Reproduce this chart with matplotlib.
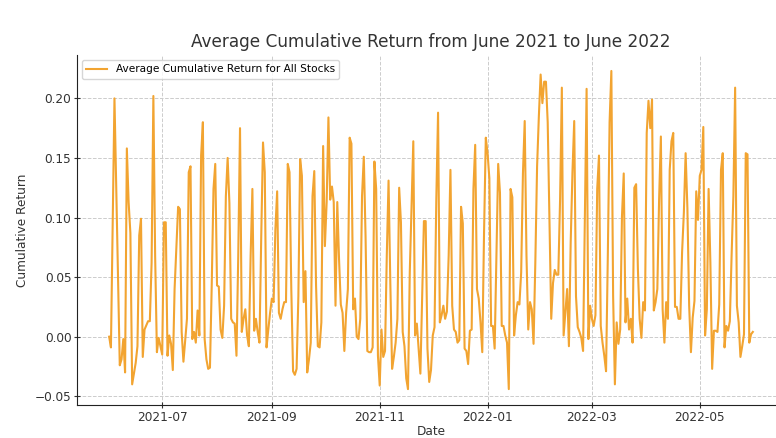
import matplotlib
matplotlib.use("Agg")
import matplotlib.pyplot as plt
import matplotlib.dates as mdates
import pandas as pd

# days since 2021-06-01 and the average cumulative return
day = [0, 1, 3, 6, 7, 8, 9, 10, 11, 12, 13, 15, 16, 17, 18, 19, 20, 22, 23, 24,
       25, 26, 27, 28, 30, 31, 32, 33, 34, 35, 36, 37, 39, 40, 41, 42, 44, 45, 46,
       47, 48, 49, 50, 51, 52, 53, 54, 55, 56, 57, 58, 59, 60, 61, 62, 63, 64, 65,
       66, 67, 68, 69, 70, 71, 72, 73, 74, 75, 76, 77, 78, 79, 80, 81, 82, 83, 84,
       85, 86, 87, 88, 89, 90, 91, 92, 93,
       94, 95, 96, 97, 98, 99, 100, 101, 102, 103, 104, 105, 106, 107, 108, 109,
       110, 111, 112, 113, 114, 115, 116, 117, 118, 119, 120, 121, 122, 123, 124,
       125, 126, 127, 128, 129, 130, 131, 132, 133, 134, 135, 136, 137, 138, 139,
       140, 141, 142,
       143, 144, 145, 146, 147, 148, 149, 150, 151, 152, 153, 154, 155, 156, 157,
       158, 159, 160, 161, 162, 163, 164, 165, 166, 167, 168, 169, 170, 171, 172,
       173, 174, 175, 176, 177, 178, 179, 180, 181, 182, 183, 184, 185, 186, 187,
       188, 189, 190,
       191, 192, 193, 194, 195, 196, 197, 198, 199, 200, 201, 202, 203, 204, 205,
       206, 207, 208, 209, 210, 211, 212, 213, 214, 215, 216, 217, 218, 220, 221,
       222, 223, 224, 225, 226, 227, 228, 229, 230, 231, 232, 233, 234, 235, 236,
       237, 238,
       239, 240, 241, 242, 243, 244, 245, 246, 247, 248, 249, 250, 251, 252, 253,
       254, 255, 256, 257, 258, 259, 260, 261, 262, 263, 264, 265, 266, 267, 268,
       269, 270, 271, 272, 273, 274, 275, 276, 277, 278, 279, 280, 281, 282, 283,
       284, 285,
       286, 287, 288, 289, 290, 291, 292, 293, 294, 295, 296, 297, 298, 299, 300,
       301, 302, 303, 304, 305, 306, 307, 308, 309, 310, 311, 312, 313, 314, 315,
       316, 317, 318, 319, 320, 321, 322, 323, 324, 325, 326, 327, 328, 329, 330,
       331, 332, 333, 334,
       335, 336, 337, 338, 339, 340, 341, 342, 343, 344, 345, 346, 347, 348, 349,
       350, 351, 352, 353, 354, 355, 356, 357, 358, 359, 360, 361, 362, 363, 364]

ret = [0.000, -0.009, 0.200, -0.024, -0.019, -0.002, -0.030, 0.158, 0.113, 0.087,
       -0.040, -0.022, -0.008, 0.085, 0.099, -0.017, 0.006, 0.013, 0.013, 0.062,
       0.202, 0.068, -0.013, -0.001, -0.015, 0.096, 0.096, -0.016, 0.001, -0.006,
       -0.028, 0.040, 0.109, 0.107, 0.004, -0.021, 0.015, 0.138, 0.143,
       -0.002, 0.004, -0.005, 0.022, 0.001, 0.152, 0.180, -0.002, -0.019, -0.027,
       -0.026, 0.043, 0.124, 0.145, 0.043, 0.042, 0.006, -0.001, 0.026, 0.118,
       0.150, 0.112, 0.015, 0.012, 0.011, -0.016, 0.068, 0.175, 0.004, 0.015,
       0.023, 0.001, -0.008, 0.068, 0.124, 0.005, 0.015, 0.004, -0.005, 0.084,
       0.163, 0.138, -0.009, 0.006, 0.020, 0.032, 0.029,
       0.090, 0.122, 0.020, 0.015, 0.023, 0.029, 0.029, 0.145, 0.138, 0.040,
       -0.029, -0.032, -0.027, 0.034, 0.149, 0.135, 0.029, 0.055, -0.030, -0.019,
       -0.005, 0.118, 0.139, 0.043, -0.008, -0.009, 0.012, 0.160, 0.076, 0.113,
       0.184, 0.115, 0.126, 0.113, 0.026, 0.113, 0.065, 0.027, 0.020, -0.012,
       0.020, 0.040, 0.167, 0.162, 0.023, 0.032, 0.000, -0.002, 0.015,
       0.118, 0.151, 0.084, -0.012, -0.013, -0.013, -0.009, 0.147, 0.124, -0.016,
       -0.041, 0.006, -0.017, -0.012, 0.068, 0.131, 0.045, -0.027, -0.017, -0.005,
       0.015, 0.125, 0.096, 0.004, -0.008, -0.035, -0.044, 0.054, 0.110, 0.164,
       0.001, 0.011, -0.010, -0.031, 0.032, 0.097, 0.097, -0.010, -0.038, -0.028,
       0.001, 0.008, 0.115, 0.188, 0.012, 0.018, 0.026, 0.015,
       0.021, 0.068, 0.140, 0.026, 0.006, 0.004, -0.005, -0.003, 0.109, 0.095,
       -0.010, -0.012, -0.023, 0.005, 0.006, 0.124, 0.161, 0.040, 0.032, 0.012,
       -0.013, 0.087, 0.167, 0.154, 0.133, 0.009, 0.009, -0.010, 0.145, 0.121,
       0.009, 0.009, 0.001, -0.005, -0.044, 0.124, 0.117, 0.001, 0.018, 0.029,
       0.027, 0.054, 0.137, 0.181, 0.068, 0.006, 0.029,
       0.023, -0.006, 0.062, 0.143, 0.185, 0.220, 0.196, 0.214, 0.214, 0.180,
       0.096, 0.015, 0.045, 0.056, 0.052, 0.052, 0.115, 0.209, 0.001, 0.021,
       0.040, -0.008, 0.079, 0.138, 0.181, 0.034, 0.008, 0.004, -0.001, -0.012,
       0.096, 0.208, -0.002, 0.026, 0.015, 0.009, 0.018, 0.124, 0.152, 0.009,
       -0.005, -0.016, -0.029, 0.068, 0.180, 0.223, 0.034,
       -0.040, 0.012, -0.006, 0.006, 0.101, 0.137, 0.012, 0.032, 0.006, 0.015,
       -0.005, 0.125, 0.128, 0.057, 0.015, -0.001, 0.029, 0.022, 0.171, 0.198,
       0.175, 0.199, 0.022, 0.029, 0.040, 0.115, 0.168, 0.023, -0.005, 0.029,
       0.015, 0.140, 0.164, 0.171, 0.025, 0.025, 0.015, 0.015, 0.071, 0.104,
       0.154, 0.108, 0.026, -0.013, 0.016, 0.030, 0.122, 0.098, 0.135,
       0.140, 0.176, 0.001, 0.023, 0.124, 0.062, -0.027, 0.005, 0.005, 0.004,
       0.027, 0.140, 0.154, -0.009, 0.009, 0.005, 0.013, 0.068, 0.118, 0.209,
       0.026, 0.012, -0.017, -0.008, 0.002, 0.154, 0.153, -0.005, 0.002, 0.004]

dates = pd.Timestamp("2021-06-01") + pd.to_timedelta(day, unit="D")

plt.rcParams["font.family"] = ["DejaVu Sans"]
plt.rcParams["font.size"] = 8.7

fig = plt.figure(figsize=(7.76, 4.38), dpi=100)
# the original is cropped on the right, so the axes run past the figure edge
ax = fig.add_axes([0.0992, 0.0753, 0.9124, 0.799])

ax.plot(dates, ret, color="#F2A431", linewidth=1.5,
        label="Average Cumulative Return for All Stocks")

ax.xaxis.set_major_locator(mdates.MonthLocator(bymonth=[1, 3, 5, 7, 9, 11]))
ax.xaxis.set_major_formatter(mdates.DateFormatter("%Y-%m"))
ax.set_yticks([-0.05, 0.0, 0.05, 0.10, 0.15, 0.20])
ax.tick_params(direction="inout", length=4, pad=2, color="#333333",
               labelcolor="#333333")

ax.grid(True, linestyle="--", color="#cccccc", linewidth=0.7)
ax.spines["top"].set_visible(False)
ax.spines["right"].set_visible(False)
ax.spines["left"].set_color("#222222")
ax.spines["bottom"].set_color("#222222")

ax.set_title("Average Cumulative Return from June 2021 to June 2022", fontsize=12.2,
             color="#333333")
ax.set_xlabel("Date", labelpad=1, color="#333333")
ax.set_ylabel("Cumulative Return", color="#333333")
ax.legend(loc="upper left", fontsize=7.55)

fig.savefig("out.png", dpi=100)
